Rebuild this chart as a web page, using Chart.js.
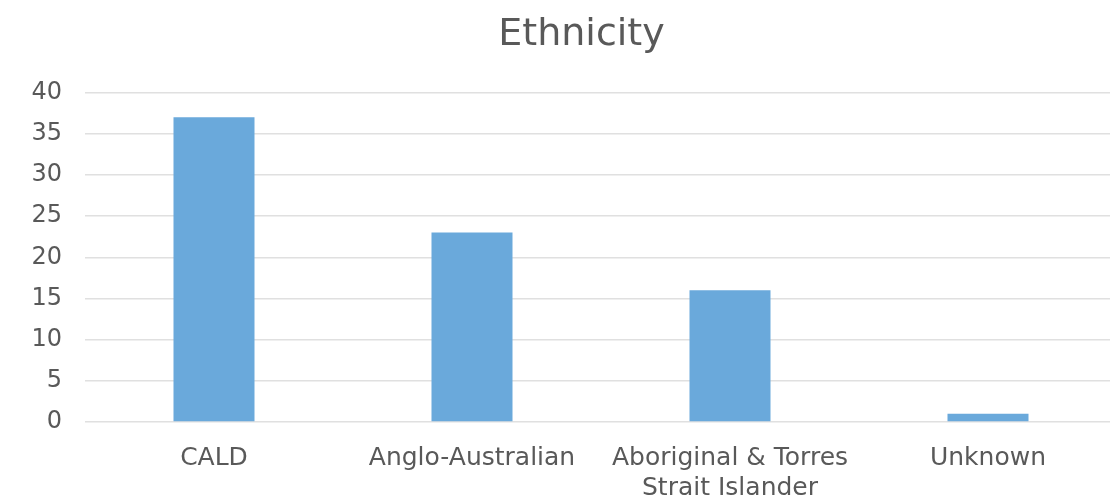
<!DOCTYPE html>
<html>
<head>
<meta charset="utf-8">
<script src="https://cdn.jsdelivr.net/npm/chart.js@4/dist/chart.umd.min.js"></script>
<style>
    html, body { margin: 0; padding: 0; background: #fff; overflow: hidden; }
    #wrap { width: 1162px; height: 502px; }
</style>
</head>
<body>
<div id="wrap"><canvas id="ethnicityChart" width="1162" height="502"></canvas></div>
<script>
// Ethnicity bar chart data
const categories = ['CALD', 'Anglo-Australian', ['Aboriginal & Torres', 'Strait Islander'], 'Unknown'];
const counts = [37, 23, 16, 1];
const yMin = 0;
const yMax = 40;
const yStep = 5;

const textColor = '#595959';
const gridColor = '#e0e0e0';

Chart.defaults.font.family = '"DejaVu Sans", sans-serif';

// nudge the title box so it is centred like the original
const titleShift = {
    id: 'titleShift',
    afterLayout(chart) {
        if (chart.titleBlock) chart.titleBlock.left += 46;
    }
};

const ctx = document.getElementById('ethnicityChart').getContext('2d');
const ethnicityChart = new Chart(ctx, {
    type: 'bar',
    data: {
        labels: categories,
        datasets: [{
            label: 'Ethnicity',
            data: counts,
            backgroundColor: '#6aa9db',
            borderWidth: 0,
            barPercentage: 0.314,
            categoryPercentage: 1
        }]
    },
    options: {
        responsive: false,
        animation: false,
        layout: {
            padding: { left: 0, right: 45, top: 0, bottom: 0 }
        },
        plugins: {
            legend: { display: false },
            tooltip: { enabled: false },
            title: {
                display: true,
                text: 'Ethnicity',
                color: textColor,
                font: { size: 38, weight: 'normal', lineHeight: 1.2 },
                padding: { top: 12, bottom: 35 }
            }
        },
        scales: {
            x: {
                grid: { display: false },
                border: { display: false },
                ticks: {
                    color: textColor,
                    font: { size: 25, lineHeight: 1.18 },
                    padding: 14,
                    maxRotation: 0,
                    autoSkip: false
                },
                afterFit: function(scale) { scale.height = 80; }
            },
            y: {
                min: yMin,
                max: yMax,
                grid: {
                    color: gridColor,
                    lineWidth: 1.5,
                    drawTicks: false
                },
                border: { display: false },
                ticks: {
                    stepSize: yStep,
                    color: textColor,
                    font: { size: 24 },
                    padding: 23
                },
                afterFit: function(scale) { scale.width = 85; }
            }
        }
    },
    plugins: [titleShift]
});
</script>
</body>
</html>
